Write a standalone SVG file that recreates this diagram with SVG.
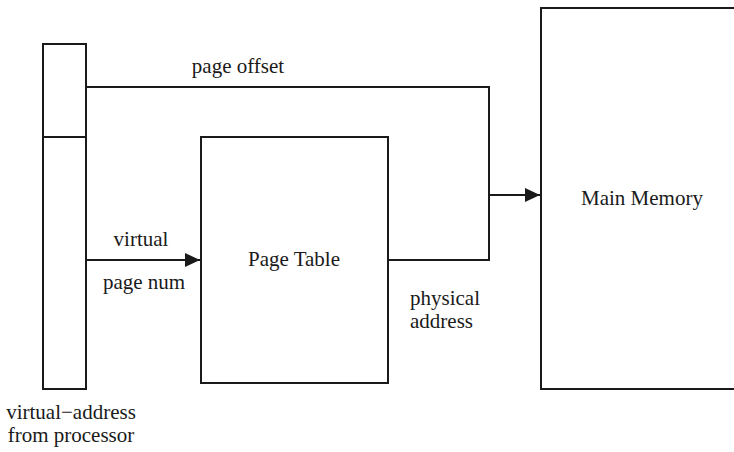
<svg xmlns="http://www.w3.org/2000/svg" width="734" height="452" viewBox="0 0 734 452">
<style>
.box{fill:#fff;stroke:#1a1a1a;stroke-width:2}
.ln{fill:none;stroke:#1a1a1a;stroke-width:2}
text{font-family:"Times New Roman","Liberation Serif","DejaVu Serif",serif;font-size:21px;fill:#1a1a1a}
</style>
<defs>
<marker id="ah" markerWidth="15" markerHeight="14" refX="15" refY="7" orient="auto" markerUnits="userSpaceOnUse">
<path d="M0,0 L15,7 L0,14 Z" fill="#1a1a1a"/>
</marker>
</defs>
<g id="connectors">
<polyline class="ln" points="86,87 489,87 489,260 388,260"/>
<line class="ln" x1="489" y1="195" x2="540" y2="195" marker-end="url(#ah)"/>
<line class="ln" x1="86" y1="260" x2="200" y2="260" marker-end="url(#ah)"/>
</g>
<g id="virtual-address">
<rect class="box" x="43" y="44" width="43" height="345"/>
<line class="ln" x1="43" y1="137" x2="86" y2="137"/>
<text x="71" y="419" text-anchor="middle">virtual−address</text>
<text x="71" y="442" text-anchor="middle">from processor</text>
</g>
<g id="page-table">
<rect class="box" x="201" y="137" width="187" height="246"/>
<text x="294" y="266" text-anchor="middle">Page Table</text>
</g>
<g id="main-memory">
<rect class="box" x="541" y="8" width="200" height="381"/>
<text x="642" y="205" text-anchor="middle">Main Memory</text>
</g>
<g id="labels">
<text x="238" y="73" text-anchor="middle">page offset</text>
<text x="141" y="246" text-anchor="middle">virtual</text>
<text x="144" y="289" text-anchor="middle">page num</text>
<text x="410" y="305">physical</text>
<text x="410" y="328">address</text>
</g>
</svg>
